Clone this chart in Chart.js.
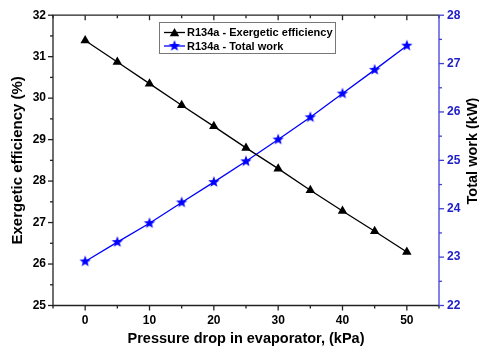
<!DOCTYPE html>
<html><head><meta charset="utf-8">
<script src="https://cdn.jsdelivr.net/npm/chart.js@4/dist/chart.umd.min.js"></script>
<style>html,body{margin:0;padding:0;background:#fff;} #wrap{width:479px;height:348px;}</style>
</head><body><div id="wrap"><canvas id="c" width="479" height="348"></canvas></div>
<script>
const pressureDrop = [0, 5, 10, 15, 20, 25, 30, 35, 40, 45, 50];
const exergeticEfficiency = [31.39, 30.87, 30.35, 29.83, 29.32, 28.80, 28.30, 27.78, 27.28, 26.79, 26.29];
const totalWork = [22.91, 23.31, 23.70, 24.13, 24.55, 24.98, 25.43, 25.89, 26.38, 26.87, 27.37];
const xTickLabels = [0, 10, 20, 30, 40, 50];
const leftTickLabels = [25, 26, 27, 28, 29, 30, 31, 32];
const rightTickLabels = [22, 23, 24, 25, 26, 27, 28];
const seriesLabels = ['R134a - Exergetic efficiency', 'R134a - Total work'];
const xTitle = 'Pressure drop in evaporator, (kPa)';
const leftTitle = 'Exergetic efficiency (%)';
const rightTitle = 'Total work (kW)';

const FONT = "'Liberation Sans', Arial, sans-serif";
const BLUE = '#0000ff';
const AXBLUE = '#4040d8';
const TICKBLUE = '#2020c8';

function makeStar(r, color) {
  const s = Math.ceil(r * 2) + 2;
  const c = document.createElement('canvas');
  c.width = s; c.height = s;
  const g = c.getContext('2d');
  g.fillStyle = color;
  g.beginPath();
  for (let i = 0; i < 10; i++) {
    const a = -Math.PI / 2 + i * Math.PI / 5;
    const rr = i % 2 ? r * 0.42 : r;
    g.lineTo(s / 2 + rr * Math.cos(a), s / 2 + rr * Math.sin(a));
  }
  g.closePath();
  g.fill();
  return c;
}
const star = makeStar(6, BLUE);

const frame = {
  id: 'frame',
  afterDatasetsDraw(chart) {
    const { ctx, chartArea: a, scales } = chart;
    ctx.save();
    ctx.lineWidth = 1.3;
    const xs = scales.x, yl = scales.y, yr = scales.y1;
    // left ticks
    ctx.strokeStyle = '#222';
    yl.ticks.forEach(t => {
      const y = yl.getPixelForValue(t.value);
      const len = Number.isInteger(t.value) ? 5 : 3;
      ctx.beginPath(); ctx.moveTo(a.left, y); ctx.lineTo(a.left - len, y); ctx.stroke();
    });
    xs.ticks.forEach(t => {
      const x = xs.getPixelForValue(t.value);
      const len = (t.value % 10 === 0) ? 5 : 3;
      ctx.beginPath(); ctx.moveTo(x, a.bottom); ctx.lineTo(x, a.bottom + len); ctx.stroke();
      ctx.beginPath(); ctx.moveTo(x, a.top); ctx.lineTo(x, a.top + len); ctx.stroke();
    });
    ctx.beginPath();
    ctx.moveTo(a.right, a.top); ctx.lineTo(a.left, a.top); ctx.lineTo(a.left, a.bottom); ctx.lineTo(a.right, a.bottom);
    ctx.stroke();
    ctx.strokeStyle = AXBLUE;
    yr.ticks.forEach(t => {
      const y = yr.getPixelForValue(t.value);
      const len = Number.isInteger(t.value) ? 5 : 3;
      ctx.beginPath(); ctx.moveTo(a.right, y); ctx.lineTo(a.right + len, y); ctx.stroke();
    });
    ctx.beginPath(); ctx.moveTo(a.right, a.top); ctx.lineTo(a.right, a.bottom); ctx.stroke();
    ctx.restore();
  },
  afterDraw(chart) {
    const { ctx } = chart;
    ctx.save();
    // right title
    ctx.fillStyle = '#000';
    ctx.font = 'bold 14.5px ' + FONT;
    ctx.textAlign = 'center';
    ctx.textBaseline = 'middle';
    ctx.translate(473, 151);
    ctx.rotate(-Math.PI / 2);
    ctx.fillText(rightTitle, 0, 0);
    ctx.restore();
    // legend
    ctx.save();
    const bx = 159.5, by = 22.5, bw = 176, bh = 31;
    ctx.fillStyle = '#fff';
    ctx.fillRect(bx, by, bw, bh);
    ctx.strokeStyle = '#777';
    ctx.lineWidth = 1;
    ctx.strokeRect(bx, by, bw, bh);
    ctx.font = 'bold 11px ' + FONT;
    ctx.textBaseline = 'middle';
    ctx.textAlign = 'left';
    chart.data.datasets.forEach((ds, i) => {
      const y = 32.5 + i * 13.5;
      ctx.strokeStyle = ds.borderColor;
      ctx.lineWidth = 1.3;
      ctx.beginPath(); ctx.moveTo(164, y); ctx.lineTo(185, y); ctx.stroke();
      const cx = 174.5;
      if (ds.pointStyle === 'triangle') {
        const r = 5.5;
        ctx.fillStyle = ds.pointBackgroundColor;
        ctx.beginPath();
        for (let k = 0; k < 3; k++) {
          const ang = k * 2 * Math.PI / 3;
          ctx.lineTo(cx + Math.sin(ang) * r, y + 1 - Math.cos(ang) * r);
        }
        ctx.closePath(); ctx.fill();
      } else {
        ctx.drawImage(ds.pointStyle, cx - ds.pointStyle.width / 2, y - ds.pointStyle.height / 2);
      }
      ctx.fillStyle = '#000';
      ctx.fillText(ds.label, 187, y + 0.5);
    });
    ctx.restore();
  }
};

new Chart(document.getElementById('c'), {
  type: 'line',
  data: {
    datasets: [
      {
        label: seriesLabels[0],
        data: pressureDrop.map((p, i) => ({ x: p, y: exergeticEfficiency[i] })),
        yAxisID: 'y',
        borderColor: '#000', backgroundColor: '#000',
        pointBackgroundColor: '#000', pointBorderColor: '#000',
        pointStyle: 'triangle', pointRadius: 5.5, pointBorderWidth: 0,
        borderWidth: 1.3, tension: 0
      },
      {
        label: seriesLabels[1],
        data: pressureDrop.map((p, i) => ({ x: p, y: totalWork[i] })),
        yAxisID: 'y1',
        borderColor: BLUE, backgroundColor: BLUE,
        pointBackgroundColor: BLUE, pointBorderColor: BLUE,
        pointStyle: star, pointRadius: 6, borderWidth: 1.3, tension: 0
      }
    ]
  },
  options: {
    responsive: false,
    animation: false,
    layout: { padding: { top: 15, left: 0, right: 0, bottom: 0 } },
    plugins: { legend: { display: false }, tooltip: { enabled: false } },
    scales: {
      x: {
        type: 'linear', min: -5, max: 55,
        grid: { display: false, drawTicks: false }, border: { display: false },
        ticks: {
          stepSize: 5, autoSkip: false, maxRotation: 0, padding: 8,
          color: '#000', font: { family: FONT, size: 12, weight: 'bold' },
          callback: v => xTickLabels.includes(v) ? String(v) : ''
        },
        title: { display: true, text: xTitle, color: '#000', font: { family: FONT, size: 14.5, weight: 'bold' }, padding: { top: 0, bottom: 0 } },
        afterFit: s => { s.height = 42.5; }
      },
      y: {
        position: 'left', min: 25, max: 32,
        grid: { display: false, drawTicks: false }, border: { display: false },
        ticks: {
          stepSize: 0.5, autoSkip: false, padding: 7,
          color: '#000', font: { family: FONT, size: 12, weight: 'bold' },
          callback: v => leftTickLabels.includes(v) ? String(v) : ''
        },
        title: { display: true, text: leftTitle, color: '#000', font: { family: FONT, size: 15, weight: 'bold' }, padding: { top: 9, bottom: 0 } },
        afterFit: s => { s.width = 53; }
      },
      y1: {
        position: 'right', min: 22, max: 28,
        grid: { display: false, drawTicks: false }, border: { display: false },
        ticks: {
          stepSize: 0.5, autoSkip: false, padding: 8,
          color: TICKBLUE, font: { family: FONT, size: 12, weight: 'bold' },
          callback: v => rightTickLabels.includes(v) ? String(v) : ''
        },
        afterFit: s => { s.width = 40; }
      }
    }
  },
  plugins: [frame]
});
</script>
</body></html>
